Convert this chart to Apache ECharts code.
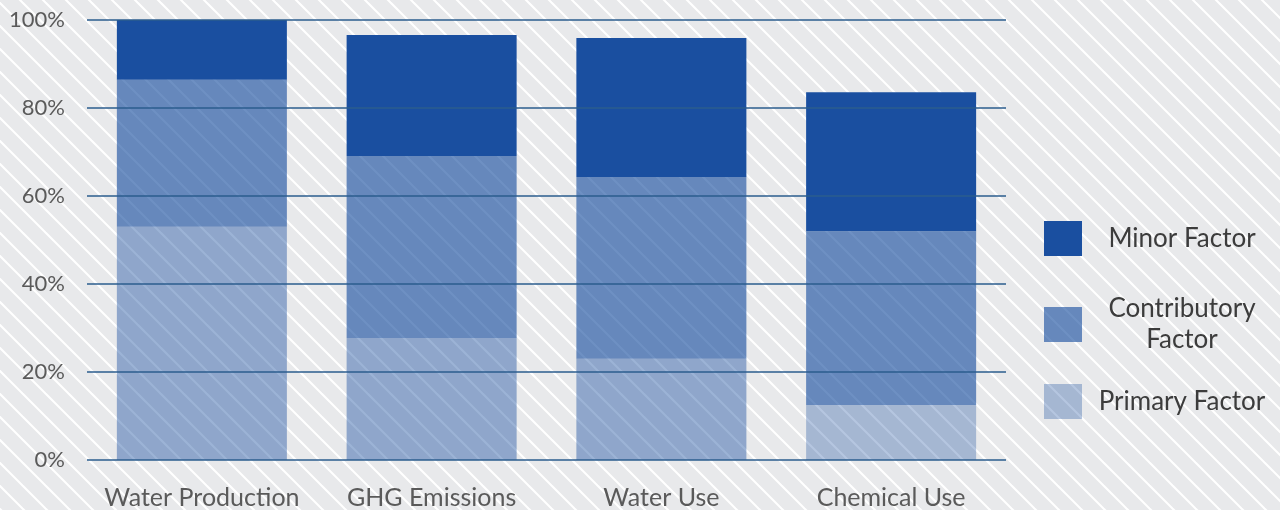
<!DOCTYPE html>
<html>
<head>
<meta charset="utf-8">
<script src="https://cdn.jsdelivr.net/npm/echarts@6/dist/echarts.min.js"></script>
<style>
  html, body { margin: 0; padding: 0; background: #e8e9eb; }
  #chart { width: 1280px; height: 510px; }
</style>
</head>
<body>
<div id="chart"></div>
<script>
// Share of each factor type per impact category (percent)
const categories = ['Water Production', 'GHG Emissions', 'Water Use', 'Chemical Use'];
const primaryFactor = [53.0, 27.7, 23.0, 12.5];
const contributoryFactor = [33.4, 41.4, 41.3, 39.5];
const minorFactor = [13.6, 27.5, 31.6, 31.6];
const yTicks = [0, 20, 40, 60, 80, 100];

const BLUE = '26,79,160';
const gridLineColor = '#2b5d8e';

// Diagonal white hatching used as the page backdrop
function hatchTile() {
  const s = 23;
  const c = document.createElement('canvas');
  c.width = s; c.height = s;
  const g = c.getContext('2d');
  g.fillStyle = '#e8e9eb';
  g.fillRect(0, 0, s, s);
  g.strokeStyle = '#ffffff';
  g.lineWidth = 2;
  const off = 20;
  for (let k = -1; k <= 1; k++) {
    const x0 = off + k * s;
    g.beginPath();
    g.moveTo(x0 - 2, -2);
    g.lineTo(x0 + s + 2, s + 2);
    g.stroke();
  }
  return c;
}

const chart = echarts.init(document.getElementById('chart'), null, { renderer: 'canvas' });

const fontFamily = 'Lato, "Open Sans", sans-serif';

function legendAt(name, top, text) {
  return {
    data: [name],
    orient: 'vertical',
    left: 1044,
    top: top,
    padding: 0,
    itemWidth: 38,
    itemHeight: 35,
    icon: 'rect',
    selectedMode: false,
    formatter: function () {
      return text.split('\n').map(function (t) { return '{a|' + t + '}'; }).join('\n');
    },
    textStyle: {
      rich: {
        a: {
          width: 190,
          align: 'center',
          fontSize: 26,
          lineHeight: 31,
          color: '#3c3c3c',
          fontFamily: fontFamily
        }
      }
    }
  };
}

const primaryData = primaryFactor.map(function (v, i) {
  // the last category's base segment is drawn a shade lighter
  return i < 3 ? { value: v, itemStyle: { color: 'rgba(' + BLUE + ',0.43)' } } : v;
});

chart.setOption({
  backgroundColor: { image: hatchTile(), repeat: 'repeat' },
  animation: false,
  grid: { left: 87, right: 274, top: 20, bottom: 50, containLabel: false },
  legend: [
    legendAt('Minor Factor', 221, 'Minor Factor'),
    legendAt('Contributory Factor', 296, 'Contributory\nFactor'),
    legendAt('Primary Factor', 384, 'Primary Factor')
  ],
  xAxis: {
    type: 'category',
    data: categories,
    axisLine: { show: false },
    axisTick: { show: false },
    axisLabel: {
      interval: 0,
      hideOverlap: false,
      margin: 25,
      fontSize: 25,
      color: '#5a5a5a',
      fontFamily: fontFamily
    }
  },
  yAxis: {
    type: 'value',
    min: 0,
    max: 100,
    interval: 20,
    axisLine: { show: false },
    axisTick: { show: false },
    splitLine: { show: false },
    axisLabel: {
      margin: 22,
      fontSize: 22,
      color: '#5a5a5a',
      fontFamily: fontFamily,
      formatter: '{value}%'
    }
  },
  series: [
    {
      name: 'Primary Factor',
      type: 'bar',
      stack: 'total',
      barWidth: '74%',
      itemStyle: { color: 'rgba(' + BLUE + ',0.32)' },
      data: primaryData
    },
    {
      name: 'Contributory Factor',
      type: 'bar',
      stack: 'total',
      itemStyle: { color: 'rgba(' + BLUE + ',0.63)' },
      data: contributoryFactor
    },
    {
      name: 'Minor Factor',
      type: 'bar',
      stack: 'total',
      itemStyle: { color: 'rgb(' + BLUE + ')' },
      data: minorFactor,
      // horizontal rules drawn above the bars
      markLine: {
        silent: true,
        symbol: ['none', 'none'],
        label: { show: false },
        lineStyle: { color: gridLineColor, width: 1.6, type: 'solid' },
        emphasis: { disabled: true },
        data: yTicks.map(function (v) { return { yAxis: v }; })
      }
    }
  ]
});
</script>
</body>
</html>
